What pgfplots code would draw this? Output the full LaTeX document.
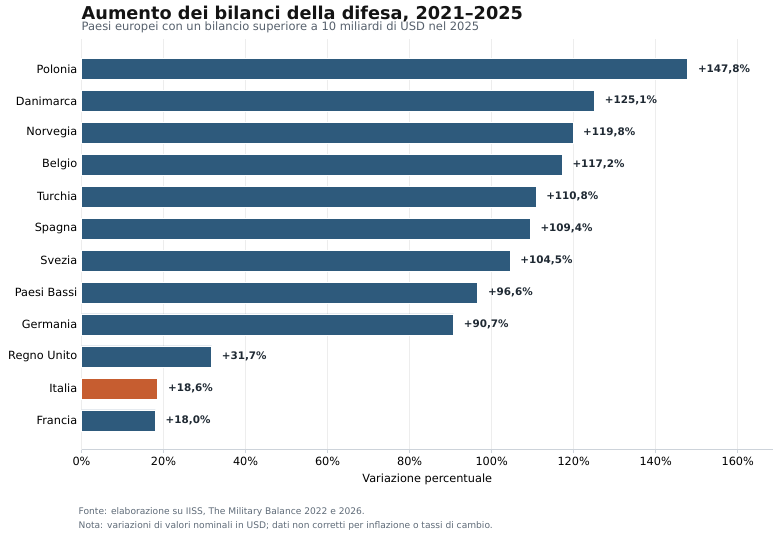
\documentclass[border=0pt]{standalone}
\usepackage{pgfplots}
\pgfplotsset{compat=1.18}
\usepackage{fontspec}
\setmainfont{DejaVu Sans}
\definecolor{barblue}{HTML}{2E5A7C}
\definecolor{barorange}{HTML}{C65D30}
\definecolor{labeltxt}{HTML}{1F2933}
\definecolor{gridc}{HTML}{EDEDED}
\definecolor{spinec}{HTML}{CDD3DA}
\definecolor{subc}{HTML}{56606C}
\definecolor{footc}{HTML}{5F6B78}
\begin{document}
\begin{tikzpicture}[x=1bp,y=1bp]
\path[use as bounding box] (0,0) rectangle (780,-537);
\node[anchor=base west, inner sep=0, font=\fontsize{17.7bp}{20bp}\selectfont\bfseries, text=black!92] at (81.5,-19.3) {Aumento dei bilanci della difesa, 2021–2025};
\node[anchor=base west, inner sep=0, text=subc, font=\fontsize{11.5bp}{13bp}\selectfont] at (81.5,-30.8) {Paesi europei con un bilancio superiore a 10 miliardi di USD nel 2025};
\begin{axis}[
  at={(81.5bp,-449.7bp)}, anchor=south west,
  scale only axis, width=691.5bp, height=410.2bp,
  xbar, bar shift=0pt, bar width=21bp,
  xmin=0, xmax=168.6, ymin=-0.92, ymax=11.92,
  ytick={0,...,11},
  yticklabels={Francia,Italia,Regno Unito,Germania,Paesi Bassi,Svezia,Spagna,Turchia,Belgio,Norvegia,Danimarca,Polonia},
  xtick={0,20,...,160},
  xticklabel={\pgfmathprintnumber[assume math mode=true]{\tick}\%},
  axis x line*=bottom, axis y line*=left,
  y axis line style={draw=none},
  ytick style={draw=none},
  x axis line style={spinec, line width=1.4bp, -},
  xtick style={spinec, line width=1bp},
  tick align=outside, major tick length=3.5bp,
  xmajorgrids, grid style={gridc, line width=1bp},
  ticklabel style={font=\fontsize{11.3bp}{13bp}\selectfont, text=black},
  xticklabel style={inner sep=0pt, yshift=-4bp},
  yticklabel style={inner sep=0pt, xshift=-0.5bp},
  xlabel={Variazione percentuale},
  xlabel style={at={(axis description cs:0.5,0)}, anchor=base, yshift=-32.3bp, inner sep=0pt, font=\fontsize{11.3bp}{13bp}\selectfont},
  point meta=x,
  nodes near coords={+\pgfmathprintnumber[fixed,fixed zerofill,precision=1,use comma,assume math mode=true]{\pgfplotspointmeta}\%},
  every node near coord/.style={anchor=west, inner sep=0pt, xshift=10bp, font=\fontsize{10.4bp}{12bp}\selectfont\bfseries, text=labeltxt},
  clip=false,
]
\addplot[fill=barblue, draw=white, line width=0.6bp] coordinates {
(18.0,0) (31.7,2) (90.7,3) (96.6,4) (104.5,5) (109.4,6) (110.8,7) (117.2,8) (119.8,9) (125.1,10) (147.8,11)
};
\addplot[fill=barorange, draw=white, line width=0.6bp] coordinates {
(18.6,1)
};
\end{axis}
\node[anchor=base west, inner sep=0, text=footc, font=\fontsize{9.1bp}{10bp}\selectfont] at (78.5,-514) {Fonte: elaborazione su IISS, The Military Balance 2022 e 2026.};
\node[anchor=base west, inner sep=0, text=footc, font=\fontsize{9.1bp}{10bp}\selectfont] at (78.5,-528) {Nota: variazioni di valori nominali in USD; dati non corretti per inflazione o tassi di cambio.};
\end{tikzpicture}
\end{document}
